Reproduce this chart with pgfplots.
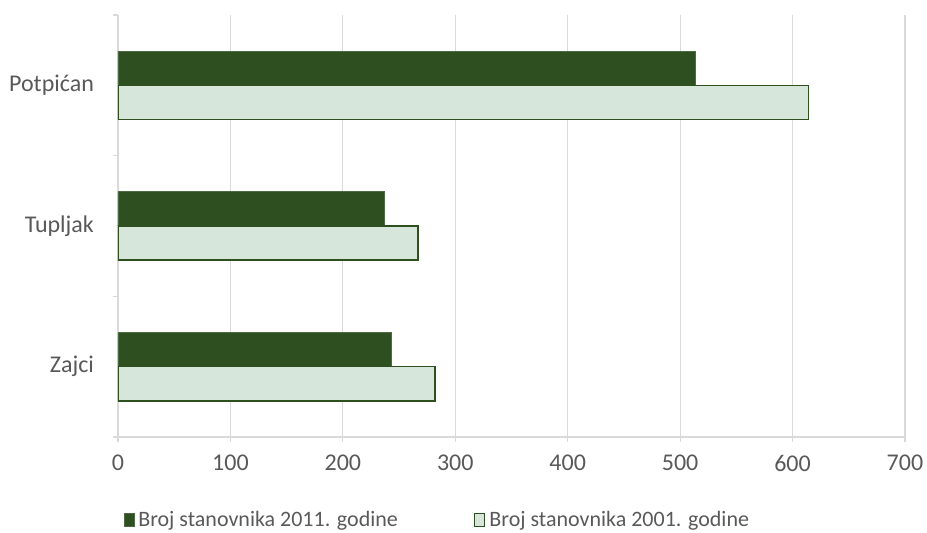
\documentclass[border=0pt]{standalone}
\usepackage{fontspec}
\setmainfont{Carlito}
\usepackage{pgfplots}
\pgfplotsset{compat=1.18}
\definecolor{darkg}{HTML}{2E5020}
\definecolor{lightg}{HTML}{D6E6DA}
\definecolor{gridc}{HTML}{D9D9D9}
\definecolor{txt}{HTML}{595959}
\begin{document}
\begin{tikzpicture}
\path[use as bounding box] (-59pt,-48pt) rectangle (404.5pt,218.5pt);
\begin{axis}[
  at={(0,0)}, anchor=south west,
  scale only axis, width=393.5pt, height=211pt,
  xmin=0, xmax=700, ymin=-0.5, ymax=2.5,
  xtick={0,100,...,700},
  ytick={0,1,2}, yticklabels={Zajci,Tupljak,Potpićan},
  minor ytick={-0.5,0.5,1.5,2.5},
  axis x line*=bottom, axis y line*=left,
  axis line style={draw=gridc, line width=0.6pt},
  xmajorgrids, grid style={draw=gridc, line width=0.6pt},
  tick align=outside,
  major tick length=2.5pt, minor tick length=2.5pt,
  x tick style={draw=gridc, line width=0.6pt},
  major y tick style={draw=none},
  minor y tick style={draw=gridc, line width=0.6pt},
  tick label style={font=\fontsize{12}{14}\selectfont, text=txt},
  /pgf/number format/assume math mode=true,
  xticklabel style={yshift=-3pt},
  yticklabel style={xshift=-6pt},
  xbar, bar width=0.243,
  legend columns=2,
  legend style={at={(0.407,-0.197)}, anchor=center, draw=none, fill=none,
    font=\fontsize{11}{13}\selectfont, text=txt,
    /tikz/every even column/.append style={column sep=36pt},
    inner sep=0pt},
  legend image code/.code={\draw[#1] (0pt,-3.2pt) rectangle (5pt,3.3pt);},
]
\addplot+[bar shift=0.1215, fill=darkg, draw=darkg!85!white, line width=0.4pt]
  coordinates {(243,0) (237,1) (514,2)};
\addlegendentry{Broj stanovnika 2011. godine}
\addplot+[bar shift=-0.1215, fill=lightg, draw=darkg, line width=0.8pt]
  coordinates {(282,0) (267,1) (614,2)};
\addlegendentry{Broj stanovnika 2001. godine}
\end{axis}
\end{tikzpicture}
\end{document}
